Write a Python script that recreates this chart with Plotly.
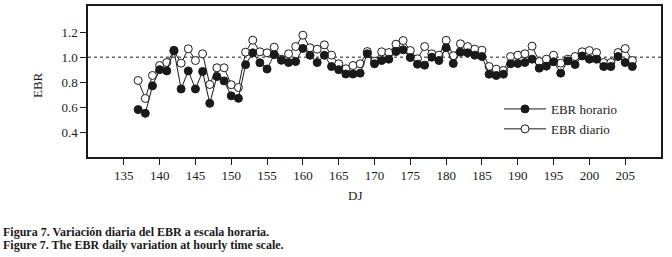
import plotly.graph_objects as go

days = list(range(137, 207))
ebr_horario = [0.58, 0.55, 0.77, 0.90, 0.89, 1.055, 0.745, 0.89, 0.745, 0.885,
               0.63, 0.845, 0.81, 0.69, 0.67, 0.94, 1.035, 0.955, 0.905, 1.02,
               0.975, 0.957, 0.965, 1.07, 1.015, 0.957, 1.015, 0.925, 0.90, 0.865,
               0.865, 0.872, 1.027, 0.947, 0.973, 0.984, 1.045, 1.059, 0.997, 0.944,
               0.936, 1.00, 0.973, 1.075, 0.949, 1.04, 1.035, 1.016, 1.005, 0.864,
               0.853, 0.864, 0.947, 0.949, 0.957, 0.984, 0.912, 0.928, 0.963, 0.872,
               0.97, 0.941, 1.01, 0.984, 0.984, 0.925, 0.925, 1.005, 0.957, 0.925]
ebr_diario = [0.813, 0.669, 0.853, 0.933, 0.957, 1.05, 0.952, 1.067, 0.973, 1.027,
              0.781, 0.915, 0.915, 0.779, 0.757, 1.04, 1.136, 1.043, 1.035, 1.08,
              0.984, 1.027, 1.085, 1.176, 1.075, 1.064, 1.099, 1.016, 0.947, 0.907,
              0.933, 0.947, 1.045, 0.968, 1.043, 1.037, 1.104, 1.133, 1.053, 0.987,
              1.085, 1.027, 1.016, 1.135, 1.011, 1.107, 1.085, 1.064, 1.056, 0.925,
              0.904, 0.893, 1.005, 1.016, 1.027, 1.088, 0.965, 0.984, 1.016, 0.952,
              0.984, 1.005, 1.043, 1.053, 1.037, 0.957, 0.957, 1.037, 1.069, 0.973]
x_ticks = list(range(135, 210, 5))
y_ticks = [0.4, 0.6, 0.8, 1.0, 1.2]
reference_level = 1.0

W, H = 672, 257
L, R, T, B = 88, 11, 6, 100
PW, PH = W - L - R, H - T - B

def px(x):
    return (x - L) / PW

def py(y):
    return (H - B - y) / PH

FONT = "Liberation Serif"
INK = "#1a1a1a"

fig = go.Figure()
fig.add_trace(go.Scatter(
    x=days, y=ebr_diario, mode="lines+markers", name="EBR diario",
    line=dict(color=INK, width=1),
    marker=dict(symbol="circle", size=8, color="white", line=dict(color=INK, width=1)),
    legendrank=2,
))
fig.add_trace(go.Scatter(
    x=days, y=ebr_horario, mode="lines+markers", name="EBR horario",
    line=dict(color=INK, width=1),
    marker=dict(symbol="circle", size=8, color=INK, line=dict(color=INK, width=1)),
    legendrank=1,
))
fig.add_hline(y=reference_level, line=dict(color=INK, width=1, dash="dot"), layer="below")

fig.update_layout(
    width=W, height=H,
    margin=dict(l=L, r=R, t=T, b=B, pad=0, autoexpand=False),
    paper_bgcolor="white", plot_bgcolor="white",
    font=dict(family=FONT, size=13, color=INK),
    showlegend=True,
    legend=dict(x=px(499), y=py(94), xanchor="left", yanchor="top",
                bgcolor="rgba(0,0,0,0)", borderwidth=0,
                font=dict(family=FONT, size=13, color=INK),
                tracegroupgap=0, itemwidth=42),
    xaxis=dict(range=[130, 210], tickvals=x_ticks, ticks="outside", ticklen=6,
               tickwidth=1, tickcolor=INK, showgrid=False, zeroline=False,
               showline=True, linecolor=INK, linewidth=1.5, mirror=True,
               tickfont=dict(family=FONT, size=13, color=INK)),
    yaxis=dict(range=[0.2, 1.41], tickvals=y_ticks, ticktext=["0.4", "0.6", "0.8", "1.0", "1.2"],
               ticks="outside", ticklen=6, tickwidth=1, tickcolor=INK,
               showgrid=False, zeroline=False, showline=True, linecolor=INK,
               linewidth=1.5, mirror=True,
               tickfont=dict(family=FONT, size=13, color=INK)),
    annotations=[
        dict(text="EBR", x=px(37), y=py(85), xref="paper", yref="paper",
             textangle=-90, showarrow=False, font=dict(family=FONT, size=13, color=INK),
             xanchor="center", yanchor="middle"),
        dict(text="DJ", x=px(355), y=py(195), xref="paper", yref="paper",
             showarrow=False, font=dict(family=FONT, size=13, color=INK),
             xanchor="center", yanchor="middle"),
        dict(text="<b>Figura 7. Variación diaria del EBR a escala horaria.</b>",
             x=px(1), y=py(231.5), xref="paper", yref="paper", showarrow=False,
             font=dict(family=FONT, size=12, color=INK), xanchor="left", yanchor="middle"),
        dict(text="<b>Figure 7. The EBR daily variation at hourly time scale.</b>",
             x=px(1), y=py(244.5), xref="paper", yref="paper", showarrow=False,
             font=dict(family=FONT, size=12, color=INK), xanchor="left", yanchor="middle"),
    ],
)

fig.write_html("out.html", config={"displayModeBar": False},
               post_script="document.body.style.margin='0';")
